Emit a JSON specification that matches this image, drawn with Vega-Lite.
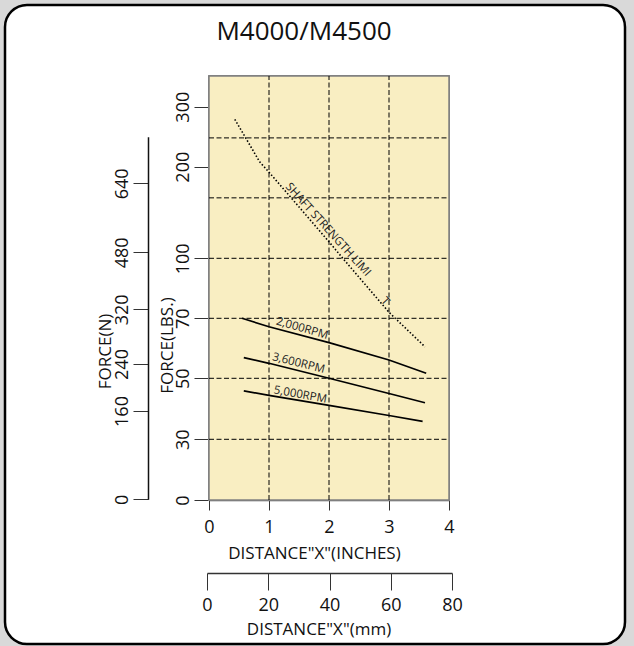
{
  "$schema": "https://vega.github.io/schema/vega-lite/v6.json",
  "width": 620,
  "height": 639,
  "autosize": {"type": "none"},
  "padding": {"left": 5, "top": 5, "right": 9, "bottom": 2},
  "background": "#d9d9d9",
  "config": {
    "view": {"fill": "white", "stroke": "black", "strokeWidth": 2.5, "cornerRadius": 22},
    "font": "Open Sans"
  },
  "title": {
    "text": "M4000/M4500",
    "font": "Open Sans",
    "fontSize": 26,
    "fontWeight": "normal",
    "color": "#111",
    "anchor": "middle",
    "frame": "group",
    "baseline": "alphabetic",
    "offset": -61,
    "dx": -11
  },
  "datasets": {
    "curves": [
      {"series": "2,000RPM", "inches": 0.55, "lbs": 70},
      {"series": "2,000RPM", "inches": 1, "lbs": 67.2},
      {"series": "2,000RPM", "inches": 2, "lbs": 61.9},
      {"series": "2,000RPM", "inches": 3, "lbs": 56.1},
      {"series": "2,000RPM", "inches": 3.62, "lbs": 51.7},
      {"series": "3,600RPM", "inches": 0.58, "lbs": 56.9},
      {"series": "3,600RPM", "inches": 1, "lbs": 55},
      {"series": "3,600RPM", "inches": 2, "lbs": 50},
      {"series": "3,600RPM", "inches": 3, "lbs": 45},
      {"series": "3,600RPM", "inches": 3.6, "lbs": 42},
      {"series": "5,000RPM", "inches": 0.58, "lbs": 45.9},
      {"series": "5,000RPM", "inches": 1, "lbs": 44.4},
      {"series": "5,000RPM", "inches": 2, "lbs": 41.1},
      {"series": "5,000RPM", "inches": 3, "lbs": 37.8},
      {"series": "5,000RPM", "inches": 3.56, "lbs": 35.9},
      {"series": "SHAFT STRENGTH LIMIT", "inches": 0.43, "lbs": 279},
      {"series": "SHAFT STRENGTH LIMIT", "inches": 0.845, "lbs": 208},
      {"series": "SHAFT STRENGTH LIMIT", "inches": 1, "lbs": 194},
      {"series": "SHAFT STRENGTH LIMIT", "inches": 1.37, "lbs": 166},
      {"series": "SHAFT STRENGTH LIMIT", "inches": 2, "lbs": 118},
      {"series": "SHAFT STRENGTH LIMIT", "inches": 2.23, "lbs": 100},
      {"series": "SHAFT STRENGTH LIMIT", "inches": 3, "lbs": 73},
      {"series": "SHAFT STRENGTH LIMIT", "inches": 3.6, "lbs": 60.5}
    ],
    "labels": [
      {"label": "SHAFT STRENGTH LIMI", "inches": 1.98, "lbs": 131},
      {"label": "T", "inches": 2.93, "lbs": 78.3},
      {"label": "2,000RPM", "inches": 1.55, "lbs": 66.5},
      {"label": "3,600RPM", "inches": 1.49, "lbs": 54.9},
      {"label": "5,000RPM", "inches": 1.52, "lbs": 44.5}
    ],
    "xgrid": [{"inches": 1}, {"inches": 2}, {"inches": 3}],
    "ygrid": [{"lbs": 30}, {"lbs": 50}, {"lbs": 70}, {"lbs": 100}, {"lbs": 166}, {"lbs": 248}]
  },
  "layer": [
    {
      "layer": [
        {
          "data": {"name": "xgrid"},
          "mark": {"type": "rect", "fill": "#f9eec2", "stroke": "#808080", "strokeWidth": 1.5},
          "encoding": {
            "x": {
              "datum": 0, "type": "quantitative",
              "scale": {"domain": [0, 4], "range": [204, 444], "nice": false, "zero": false},
              "axis": {
                "orient": "bottom", "offset": -144, "values": [0, 1, 2, 3, 4], "format": "d", "grid": false,
                "tickSize": 10, "tickColor": "#333", "domainColor": "#555", "domainWidth": 1.5,
                "labelFont": "Open Sans", "labelFontSize": 18, "labelColor": "#111", "labelPadding": 8,
                "labelFlush": false, "labelOverlap": false,
                "title": "DISTANCE\"X\"(INCHES)", "titleFont": "Open Sans", "titleFontSize": 17,
                "titleFontWeight": "normal", "titleColor": "#111", "titleX": 309, "titleY": 58,
                "titleAlign": "center", "titleBaseline": "alphabetic"
              }
            },
            "x2": {"datum": 4},
            "y": {
              "datum": 0, "type": "quantitative",
              "scale": {"domain": [0, 30, 50, 70, 100, 200, 300, 351], "range": [495, 434.3, 373.3, 313.3, 253.3, 161.7, 101.7, 71], "nice": false, "zero": false},
              "axis": {
                "orient": "left", "offset": -204, "values": [0, 30, 50, 70, 100, 200, 300], "format": "d", "grid": false,
                "tickSize": 15, "tickColor": "#333", "domainColor": "#555", "domainWidth": 1.5,
                "labelFont": "Open Sans", "labelFontSize": 18, "labelColor": "#111", "labelPadding": 2,
                "labelAngle": 270, "labelAlign": "center", "labelBaseline": "bottom",
                "labelFlush": false, "labelOverlap": false,
                "title": "FORCE(LBS.)", "titleFont": "Open Sans", "titleFontSize": 17,
                "titleFontWeight": "normal", "titleColor": "#111", "titleAngle": 270,
                "titleX": -37, "titleY": 340, "titleAlign": "center", "titleBaseline": "alphabetic"
              }
            },
            "y2": {"datum": 351}
          }
        },
        {
          "data": {"name": "xgrid"},
          "mark": {"type": "rule", "color": "black", "strokeWidth": 1, "strokeDash": [5, 2.5]},
          "encoding": {
            "x": {"field": "inches", "type": "quantitative", "scale": {"domain": [0, 4], "range": [204, 444], "nice": false, "zero": false}},
            "y": {"datum": 0, "type": "quantitative", "scale": {"domain": [0, 30, 50, 70, 100, 200, 300, 351], "range": [495, 434.3, 373.3, 313.3, 253.3, 161.7, 101.7, 71], "nice": false, "zero": false}},
            "y2": {"datum": 351}
          }
        },
        {
          "data": {"name": "ygrid"},
          "mark": {"type": "rule", "color": "black", "strokeWidth": 1, "strokeDash": [5, 2.5]},
          "encoding": {
            "y": {"field": "lbs", "type": "quantitative", "scale": {"domain": [0, 30, 50, 70, 100, 200, 300, 351], "range": [495, 434.3, 373.3, 313.3, 253.3, 161.7, 101.7, 71], "nice": false, "zero": false}},
            "x": {"datum": 0, "type": "quantitative", "scale": {"domain": [0, 4], "range": [204, 444], "nice": false, "zero": false}},
            "x2": {"datum": 4}
          }
        },
        {
          "data": {"name": "curves"},
          "transform": [{"filter": "datum.series !== 'SHAFT STRENGTH LIMIT'"}],
          "mark": {"type": "line", "color": "black", "strokeWidth": 1.7},
          "encoding": {
            "x": {"field": "inches", "type": "quantitative", "scale": {"domain": [0, 4], "range": [204, 444], "nice": false, "zero": false}},
            "y": {"field": "lbs", "type": "quantitative", "scale": {"domain": [0, 30, 50, 70, 100, 200, 300, 351], "range": [495, 434.3, 373.3, 313.3, 253.3, 161.7, 101.7, 71], "nice": false, "zero": false}},
            "detail": {"field": "series", "type": "nominal"}
          }
        },
        {
          "data": {"name": "curves"},
          "transform": [{"filter": "datum.series === 'SHAFT STRENGTH LIMIT'"}],
          "mark": {"type": "line", "color": "black", "strokeWidth": 1.6, "strokeDash": [1.5, 2]},
          "encoding": {
            "x": {"field": "inches", "type": "quantitative", "scale": {"domain": [0, 4], "range": [204, 444], "nice": false, "zero": false}},
            "y": {"field": "lbs", "type": "quantitative", "scale": {"domain": [0, 30, 50, 70, 100, 200, 300, 351], "range": [495, 434.3, 373.3, 313.3, 253.3, 161.7, 101.7, 71], "nice": false, "zero": false}}
          }
        },
        {
          "data": {"name": "labels"},
          "transform": [{"filter": "datum.label === 'SHAFT STRENGTH LIMI' || datum.label === 'T'"}],
          "mark": {"type": "text", "angle": 48, "align": "center", "baseline": "middle", "font": "Open Sans", "fontSize": 11.5, "color": "#222"},
          "encoding": {
            "x": {"field": "inches", "type": "quantitative", "scale": {"domain": [0, 4], "range": [204, 444], "nice": false, "zero": false}},
            "y": {"field": "lbs", "type": "quantitative", "scale": {"domain": [0, 30, 50, 70, 100, 200, 300, 351], "range": [495, 434.3, 373.3, 313.3, 253.3, 161.7, 101.7, 71], "nice": false, "zero": false}},
            "text": {"field": "label"}
          }
        },
        {
          "data": {"name": "labels"},
          "transform": [{"filter": "datum.label === '2,000RPM'"}],
          "mark": {"type": "text", "angle": 16, "align": "center", "baseline": "middle", "font": "Open Sans", "fontSize": 11.5, "color": "#222"},
          "encoding": {
            "x": {"field": "inches", "type": "quantitative", "scale": {"domain": [0, 4], "range": [204, 444], "nice": false, "zero": false}},
            "y": {"field": "lbs", "type": "quantitative", "scale": {"domain": [0, 30, 50, 70, 100, 200, 300, 351], "range": [495, 434.3, 373.3, 313.3, 253.3, 161.7, 101.7, 71], "nice": false, "zero": false}},
            "text": {"field": "label"}
          }
        },
        {
          "data": {"name": "labels"},
          "transform": [{"filter": "datum.label === '3,600RPM'"}],
          "mark": {"type": "text", "angle": 14, "align": "center", "baseline": "middle", "font": "Open Sans", "fontSize": 11.5, "color": "#222"},
          "encoding": {
            "x": {"field": "inches", "type": "quantitative", "scale": {"domain": [0, 4], "range": [204, 444], "nice": false, "zero": false}},
            "y": {"field": "lbs", "type": "quantitative", "scale": {"domain": [0, 30, 50, 70, 100, 200, 300, 351], "range": [495, 434.3, 373.3, 313.3, 253.3, 161.7, 101.7, 71], "nice": false, "zero": false}},
            "text": {"field": "label"}
          }
        },
        {
          "data": {"name": "labels"},
          "transform": [{"filter": "datum.label === '5,000RPM'"}],
          "mark": {"type": "text", "angle": 10, "align": "center", "baseline": "middle", "font": "Open Sans", "fontSize": 11.5, "color": "#222"},
          "encoding": {
            "x": {"field": "inches", "type": "quantitative", "scale": {"domain": [0, 4], "range": [204, 444], "nice": false, "zero": false}},
            "y": {"field": "lbs", "type": "quantitative", "scale": {"domain": [0, 30, 50, 70, 100, 200, 300, 351], "range": [495, 434.3, 373.3, 313.3, 253.3, 161.7, 101.7, 71], "nice": false, "zero": false}},
            "text": {"field": "label"}
          }
        }
      ]
    },
    {
      "data": {"name": "xgrid"},
      "mark": {"type": "point", "opacity": 0},
      "encoding": {
        "x": {
          "datum": 0, "type": "quantitative",
          "scale": {"domain": [0, 80], "range": [202, 447], "nice": false, "zero": false},
          "axis": {
            "orient": "bottom", "offset": -71, "values": [0, 20, 40, 60, 80], "format": "d", "grid": false,
            "tickSize": 17, "tickColor": "#333", "domainColor": "#333", "domainWidth": 1.5,
            "labelFont": "Open Sans", "labelFontSize": 18, "labelColor": "#111", "labelPadding": 6,
            "labelFlush": false, "labelOverlap": false,
            "title": "DISTANCE\"X\"(mm)", "titleFont": "Open Sans", "titleFontSize": 17,
            "titleFontWeight": "normal", "titleColor": "#111", "titleX": 313.5, "titleY": 61,
            "titleAlign": "center", "titleBaseline": "alphabetic"
          }
        },
        "y": {
          "datum": 0, "type": "quantitative",
          "scale": {"domain": [0, 160, 240, 320, 480, 640, 747], "range": [494.3, 406, 359, 304.3, 247.3, 178.3, 131.7], "nice": false, "zero": false},
          "axis": {
            "orient": "left", "offset": -143, "values": [0, 160, 240, 320, 480, 640], "format": "d", "grid": false,
            "tickSize": 15, "tickColor": "#333", "domainColor": "#111", "domainWidth": 1.5,
            "labelFont": "Open Sans", "labelFontSize": 18, "labelColor": "#111", "labelPadding": 2,
            "labelAngle": 270, "labelAlign": "center", "labelBaseline": "bottom",
            "labelFlush": false, "labelOverlap": false,
            "title": "FORCE(N)", "titleFont": "Open Sans", "titleFontSize": 17,
            "titleFontWeight": "normal", "titleColor": "#111", "titleAngle": 270,
            "titleX": -38, "titleY": 346, "titleAlign": "center", "titleBaseline": "alphabetic"
          }
        }
      }
    }
  ],
  "resolve": {
    "scale": {"x": "independent", "y": "independent"},
    "axis": {"x": "independent", "y": "independent"}
  }
}
